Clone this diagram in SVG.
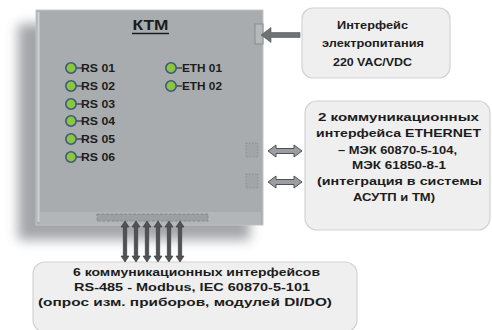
<svg xmlns="http://www.w3.org/2000/svg" width="492" height="330" viewBox="0 0 492 330">
<defs>
<filter id="sh" x="-20%" y="-20%" width="140%" height="140%"><feGaussianBlur stdDeviation="6"/></filter>
<path id="varr" d="M0,0 L4,6 L1.7,6 L1.7,35 L4,35 L0,41 L-4,35 L-1.7,35 L-1.7,6 L-4,6 Z"/>
<path id="harr" d="M0,0 L8,-6 L8,-2.5 L26,-2.5 L26,-6 L34,0 L26,6 L26,2.5 L8,2.5 L8,6 Z"/>
<g id="led"><line x1="4" y1="0" x2="11" y2="0" stroke="#2b2b6a" stroke-width="1.2"/><circle r="5.2" fill="#8cc63e" stroke="#3d5a78" stroke-width="1.6"/></g>
</defs>
<style>
.t{font-family:"Liberation Sans",Arial,sans-serif;font-weight:bold;fill:#1c1c1c}
.lbl{font-size:10.5px}
.bx{fill:#efefef;stroke:#d2d2d2;stroke-width:1.2}
.va{fill:#505356;stroke:#333;stroke-width:0.6}
.ha{fill:#9b9ea1;stroke:#4e5154;stroke-width:1}
</style>
<rect width="492" height="330" fill="#ffffff"/>

<g id="ktm">
<rect x="18" y="24" width="232" height="216" fill="#8d9094" filter="url(#sh)" opacity="0.8"/>
<rect x="36" y="10" width="227" height="215" fill="#a9acaf" stroke="#c3c5c8" stroke-width="1"/>
<line x1="38.5" y1="12" x2="38.5" y2="222" stroke="#d0d2d4" stroke-width="2"/>
<rect x="40" y="212" width="221" height="12" fill="#b3b6b9"/>
<text class="t" x="150.5" y="30" font-size="15" text-anchor="middle" textLength="36" lengthAdjust="spacingAndGlyphs">КТМ</text>
<line x1="132" y1="33.5" x2="169" y2="33.5" stroke="#1c1c1c" stroke-width="1.3"/>
<use href="#led" x="71" y="68"/><text class="t lbl" x="81" y="72" textLength="34" lengthAdjust="spacingAndGlyphs">RS 01</text>
<use href="#led" x="71" y="86"/><text class="t lbl" x="81" y="90" textLength="34" lengthAdjust="spacingAndGlyphs">RS 02</text>
<use href="#led" x="71" y="104"/><text class="t lbl" x="81" y="108" textLength="34" lengthAdjust="spacingAndGlyphs">RS 03</text>
<use href="#led" x="71" y="121"/><text class="t lbl" x="81" y="125" textLength="34" lengthAdjust="spacingAndGlyphs">RS 04</text>
<use href="#led" x="71" y="139"/><text class="t lbl" x="81" y="143" textLength="34" lengthAdjust="spacingAndGlyphs">RS 05</text>
<use href="#led" x="71" y="157"/><text class="t lbl" x="81" y="161" textLength="34" lengthAdjust="spacingAndGlyphs">RS 06</text>
<use href="#led" x="171" y="68"/><text class="t lbl" x="182" y="72" textLength="40" lengthAdjust="spacingAndGlyphs">ETH 01</text>
<use href="#led" x="171" y="86"/><text class="t lbl" x="182" y="90" textLength="40" lengthAdjust="spacingAndGlyphs">ETH 02</text>
<rect x="255" y="24" width="8" height="20" fill="#b6b9bc" stroke="#888b8e" stroke-width="1"/>
<rect x="246" y="143" width="12" height="14" fill="#a2a5a8" stroke="#85888b" stroke-width="0.8" stroke-dasharray="1.5 1.5"/>
<rect x="246" y="174" width="12" height="14" fill="#a2a5a8" stroke="#85888b" stroke-width="0.8" stroke-dasharray="1.5 1.5"/>
<rect x="97" y="214" width="111" height="7" fill="#9da0a3" stroke="#808386" stroke-width="0.8" stroke-dasharray="3 1.5"/>
</g>

<g id="power-box">
<rect class="bx" x="302" y="8" width="148" height="70" rx="11"/>
<text class="t" x="337" y="29" font-size="11.5" textLength="71" lengthAdjust="spacingAndGlyphs">Интерфейс</text>
<text class="t" x="322" y="47" font-size="11.5" textLength="102" lengthAdjust="spacingAndGlyphs">электропитания</text>
<text class="t" x="333" y="66" font-size="11.5" textLength="79" lengthAdjust="spacingAndGlyphs">220 VAC/VDC</text>
</g>

<g id="eth-box">
<rect class="bx" x="305" y="101" width="185" height="129" rx="12"/>
<text class="t" x="318" y="121" font-size="11.5" textLength="161" lengthAdjust="spacingAndGlyphs">2 коммуникационных</text>
<text class="t" x="316" y="137" font-size="11.5" textLength="165" lengthAdjust="spacingAndGlyphs">интерфейса  ETHERNET</text>
<text class="t" x="338" y="154" font-size="11.5" textLength="119" lengthAdjust="spacingAndGlyphs">– МЭК 60870-5-104,</text>
<text class="t" x="352" y="169" font-size="11.5" textLength="94" lengthAdjust="spacingAndGlyphs">МЭК 61850-8-1</text>
<text class="t" x="317" y="185" font-size="11.5" textLength="165" lengthAdjust="spacingAndGlyphs">(интеграция в системы</text>
<text class="t" x="353" y="201" font-size="11.5" textLength="82" lengthAdjust="spacingAndGlyphs">АСУТП и ТМ)</text>
</g>

<g id="rs-box">
<rect class="bx" x="33" y="262" width="324" height="70" rx="12"/>
<text class="t" x="73" y="276" font-size="11.5" textLength="247" lengthAdjust="spacingAndGlyphs">6 коммуникационных интерфейсов</text>
<text class="t" x="74" y="291" font-size="11.5" textLength="236" lengthAdjust="spacingAndGlyphs">RS-485 - Modbus, IEC 60870-5-101</text>
<text class="t" x="38" y="306" font-size="11.5" textLength="294" lengthAdjust="spacingAndGlyphs">(опрос изм. приборов, модулей DI/DO)</text>
</g>

<g id="connectors">
<path d="M261,35 L271,27.5 L271,32.5 L300,32.5 L300,37.5 L271,37.5 L271,42.5 Z" fill="#6f7275" stroke="#55585b" stroke-width="0.6"/>
<use href="#harr" class="ha" x="268" y="151"/>
<use href="#harr" class="ha" x="268" y="182"/>
<use href="#varr" class="va" x="125" y="221"/>
<use href="#varr" class="va" x="136" y="221"/>
<use href="#varr" class="va" x="147" y="221"/>
<use href="#varr" class="va" x="158" y="221"/>
<use href="#varr" class="va" x="169" y="221"/>
<use href="#varr" class="va" x="180" y="221"/>
</g>
</svg>
